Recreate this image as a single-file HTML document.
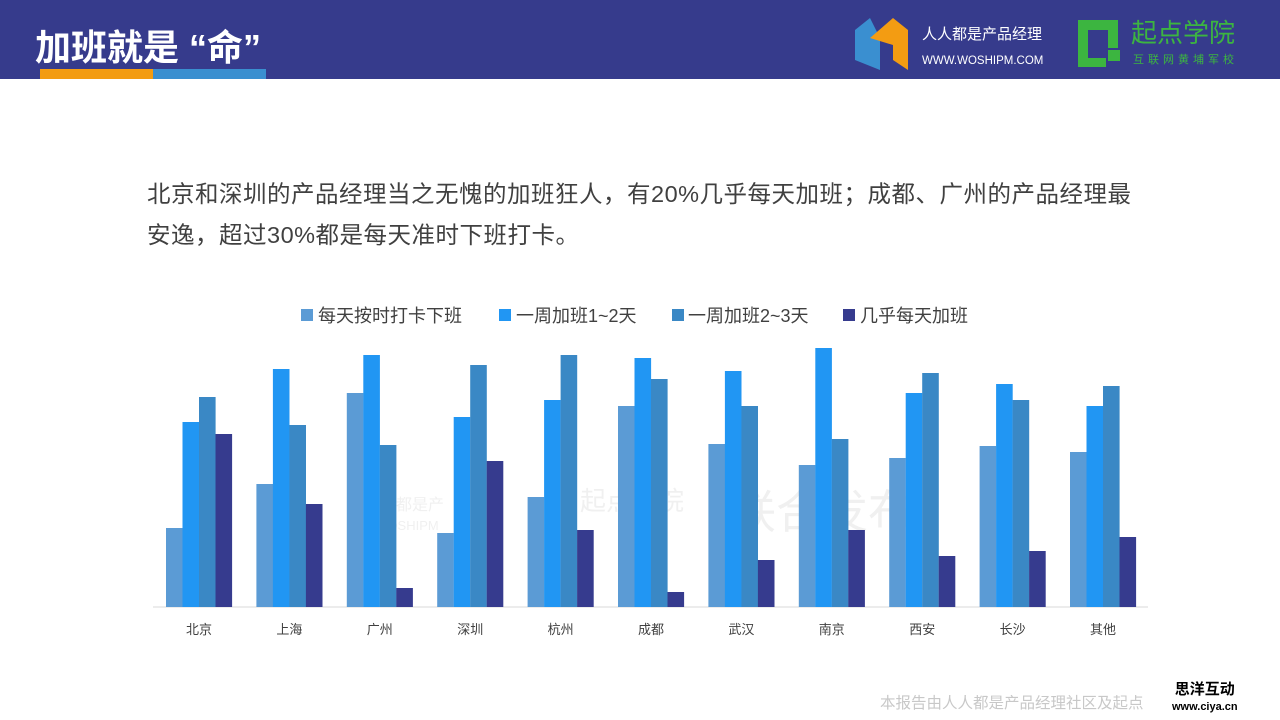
<!DOCTYPE html>
<html><head><meta charset="utf-8"><style>
body{margin:0;width:1280px;height:720px;background:#fff;position:relative;overflow:hidden;font-family:"Liberation Sans","Noto Sans CJK SC",sans-serif}
.hd{position:absolute;left:0;top:0;width:1280px;height:79px;background:#363b8c}
.t{position:absolute;left:35px;top:26px;color:#fff;font-size:36px;font-weight:bold;line-height:44px;white-space:pre}
.p{position:absolute;left:147px;top:174px;font-size:23.5px;line-height:41px;color:#404040;white-space:nowrap;letter-spacing:0.5px}
</style></head><body>
<div class="hd"></div>
<div class="t">加班就是 “命”</div>
<div style="position:absolute;left:40px;top:69px;width:113px;height:10px;background:#f39c12"></div>
<div style="position:absolute;left:153px;top:69px;width:113px;height:10px;background:#3a8fd0"></div>
<svg style="position:absolute;left:0;top:0" width="1280" height="80">
<polygon points="855,30 870,18 880,38 880,70 855,60" fill="#3a8fd0"/>
<polygon points="870,38 893,18 908,30 908,70 893,60 893,45" fill="#f39c12"/>
<text x="922" y="39" fill="#fff" font-size="15" font-family="Liberation Sans,Noto Sans CJK SC,sans-serif">人人都是产品经理</text>
<text x="922" y="64" fill="#fff" font-size="11.5" font-family="Liberation Sans,sans-serif">WWW.WOSHIPM.COM</text>
<path d="M1078,20 h40 v28 h-10 v-18 h-20 v28 h18 v9 h-28 z" fill="#3cb540"/>
<rect x="1108" y="50" width="12" height="11" fill="#3cb540"/>
<text x="1131" y="42" fill="#3cb540" font-size="26" font-family="Noto Sans CJK SC,sans-serif">起点学院</text>
<text x="1133" y="63" fill="#3cb540" font-size="11" letter-spacing="4" font-family="Noto Sans CJK SC,sans-serif">互联网黄埔军校</text>
</svg>
<div class="p">北京和深圳的产品经理当之无愧的加班狂人，有20%几乎每天加班；成都、广州的产品经理最<br>安逸，超过30%都是每天准时下班打卡。</div>
<svg style="position:absolute;left:0;top:0" width="1280" height="720" font-family="Liberation Sans,Noto Sans CJK SC,sans-serif">
<g font-size="18" fill="#404040">
<rect x="301" y="309" width="12" height="12" fill="#5b9bd5"/><text x="318" y="322">每天按时打卡下班</text>
<rect x="499" y="309" width="12" height="12" fill="#2196f3"/><text x="516" y="322">一周加班1~2天</text>
<rect x="672" y="309" width="12" height="12" fill="#3a88c5"/><text x="688" y="322">一周加班2~3天</text>
<rect x="843" y="309" width="12" height="12" fill="#363b8e"/><text x="860" y="322">几乎每天加班</text>
</g>
<g opacity="0.12" fill="#888" font-size="40">
<text x="380" y="510" font-size="16">人都是产</text><text x="360" y="530" font-size="13">W.WOSHIPM</text>
<text x="580" y="510" font-size="26">起点学院</text><text x="730" y="528" font-size="46">联合发布</text>
</g>
<line x1="153" y1="607" x2="1148" y2="607" stroke="#d9d9d9"/>
<g id="bars"></g>
<g font-size="13" fill="#404040" text-anchor="middle" id="labs"></g>
</svg>
<div style="position:absolute;left:880px;top:691px;font-size:15.5px;color:#c8c8c8">本报告由人人都是产品经理社区及起点</div>
<div style="position:absolute;left:1172px;top:682px;font-size:15px;font-weight:bold;color:#000;line-height:16px;text-align:center">思洋互动<br><span style="font-size:11px">www.ciya.cn</span></div>
<script>
var d=[[528,422,397,434],[484,369,425,504],[393,355,445,588],[533,417,365,461],[497,400,355,530],[406,358,379,592],[444,371,406,560],[465,348,439,530],[458,393,373,556],[446,384,400,551],[452,406,386,537]];
var n=["北京","上海","广州","深圳","杭州","成都","武汉","南京","西安","长沙","其他"];
var c=["#5b9bd5","#2196f3","#3a88c5","#363b8e"];
var s="",l="";
for(var i=0;i<11;i++){var x=166+i*90.4;for(var j=0;j<4;j++){s+='<rect x="'+(x+j*16.5)+'" y="'+d[i][j]+'" width="16.6" height="'+(607-d[i][j])+'" fill="'+c[j]+'"/>';}
l+='<text x="'+(x+33)+'" y="634">'+n[i]+'</text>';}
document.getElementById("bars").innerHTML=s;document.getElementById("labs").innerHTML=l;
</script>
</body></html>
